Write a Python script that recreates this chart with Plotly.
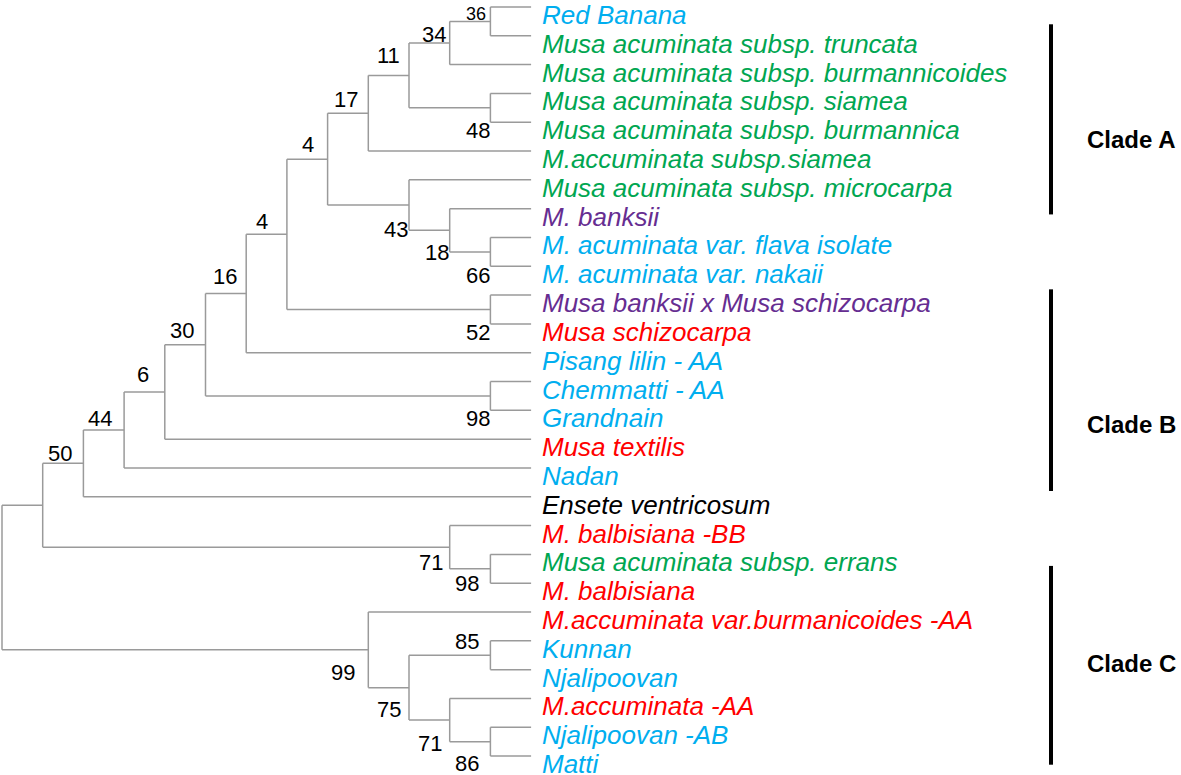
import plotly.graph_objects as go

# ---------------- data ----------------
leaf_names = [
    "Red Banana",
    "Musa acuminata subsp. truncata",
    "Musa acuminata subsp. burmannicoides",
    "Musa acuminata subsp. siamea",
    "Musa acuminata subsp. burmannica",
    "M.accuminata subsp.siamea",
    "Musa acuminata subsp. microcarpa",
    "M. banksii",
    "M. acuminata var. flava isolate",
    "M. acuminata var. nakaii",
    "Musa banksii x Musa schizocarpa",
    "Musa schizocarpa",
    "Pisang lilin - AA",
    "Chemmatti - AA",
    "Grandnain",
    "Musa textilis",
    "Nadan",
    "Ensete ventricosum",
    "M. balbisiana -BB",
    "Musa acuminata subsp. errans",
    "M. balbisiana",
    "M.accuminata var.burmanicoides -AA",
    "Kunnan",
    "Njalipoovan",
    "M.accuminata -AA",
    "Njalipoovan -AB",
    "Matti",
]
leaf_groups = [
    "blue", "green", "green", "green", "green", "green", "green", "purple",
    "blue", "blue", "purple", "red", "blue", "blue", "blue", "red", "blue",
    "black", "red", "green", "red", "red", "blue", "blue", "red", "blue", "blue",
]

# internal nodes: (node id, first child, second child); ints are leaf indices
tree_nodes = [
    ("n1", 0, 1), ("n2", "n1", 2), ("n3", 3, 4), ("n4", "n2", "n3"),
    ("n5", "n4", 5), ("n6", 8, 9), ("n7", 7, "n6"), ("n8", 6, "n7"),
    ("n9", "n5", "n8"), ("n10", 10, 11), ("n11", "n9", "n10"),
    ("n12", "n11", 12), ("n13", 13, 14), ("n14", "n12", "n13"),
    ("n15", "n14", 15), ("n16", "n15", 16), ("n17", "n16", 17),
    ("n18", 19, 20), ("n19", 18, "n18"), ("n20", "n17", "n19"),
    ("n21", 22, 23), ("n22", 25, 26), ("n23", 24, "n22"),
    ("n24", "n21", "n23"), ("n25", 21, "n24"),
    ("root", "n20", "n25"),
]

bootstrap_nodes = ["n1", "n2", "n4", "n5", "n9", "n11", "n12", "n14", "n15",
                   "n16", "n17", "n3", "n8", "n7", "n6", "n10", "n13", "n19",
                   "n18", "n25", "n21", "n24", "n23", "n22"]
bootstrap_values = [36, 34, 11, 17, 4, 4, 16, 30, 6, 44, 50, 48, 43, 18, 66,
                    52, 98, 71, 98, 99, 85, 75, 71, 86]

clade_names = ["Clade A", "Clade B", "Clade C"]
clade_top = [0.6, 9.8, 19.4]       # in leaf-row units
clade_bottom = [7.2, 16.8, 26.3]
clade_label_row = [4.6, 14.5, 22.8]

# ---------------- styles ----------------
group_colors = {"blue": "#00AEEF", "green": "#00A651", "purple": "#662D91",
                "red": "#FF0000", "black": "#000000"}
# pixel offsets of bootstrap labels relative to their node (dx, dy down)
label_offsets = {
    "n1": (-14, -7.5), "n2": (-16, -9), "n4": (-21, -20), "n5": (-22, -14),
    "n9": (-20, -15), "n11": (-25, -13), "n12": (-21, -17), "n14": (-24, -14),
    "n15": (-22, -17), "n16": (-24, -11), "n17": (-23, -10),
    "n3": (-12, 22.5), "n8": (-13, 24), "n7": (-13, 22), "n6": (-12, 23.5),
    "n10": (-12, 23), "n13": (-12, 23), "n19": (-19, 15.5), "n18": (-23, 15),
    "n25": (-25, 23), "n21": (-23, -13.5), "n24": (-20, 22), "n23": (-20, 23),
    "n22": (-23, 22),
}
label_sizes = {"n1": 18}

W, H = 1181, 775
PX_X0, PX_DX = 2.0, 40.7        # pixel of depth 0, pixels per depth level
PX_Y0, PX_DY = 7.0, 28.81       # pixel of row 0, pixels per row

# ---------------- layout of the tree ----------------
children = {nid: (a, b) for nid, a, b in tree_nodes}


def height(n):
    if isinstance(n, int):
        return 0
    a, b = children[n]
    return 1 + max(height(a), height(b))


max_h = height("root")


def node_x(n):
    return max_h - height(n)


def node_y(n):
    if isinstance(n, int):
        return float(n)
    a, b = children[n]
    return (node_y(a) + node_y(b)) / 2.0


xs, ys = [], []
for nid, a, b in tree_nodes:
    x = node_x(nid)
    ya, yb = node_y(a), node_y(b)
    xs += [x, x, None]
    ys += [ya, yb, None]
    for c in (a, b):
        xs += [x, node_x(c), None]
        ys += [node_y(c), node_y(c), None]

fig = go.Figure()
fig.add_trace(go.Scatter(x=xs, y=ys, mode="lines",
                         line=dict(color="#9a9a9a", width=1.5),
                         hoverinfo="skip", showlegend=False))

annotations = []
for i, name in enumerate(leaf_names):
    annotations.append(dict(
        x=max_h, y=i, text=name, showarrow=False, xanchor="left",
        yanchor="middle", xshift=9, yshift=-8,
        font=dict(family="Liberation Sans, Arial, sans-serif", size=26,
                  color=group_colors[leaf_groups[i]], style="italic")))

for nid, val in zip(bootstrap_nodes, bootstrap_values):
    dx, dy = label_offsets[nid]
    annotations.append(dict(
        x=node_x(nid), y=node_y(nid), text=str(val), showarrow=False,
        xanchor="center", yanchor="middle", xshift=dx, yshift=-dy,
        font=dict(family="Liberation Sans, Arial, sans-serif",
                  size=label_sizes.get(nid, 22), color="#000000")))

bar_x = (1051 - PX_X0) / PX_DX
label_x = (1085 - PX_X0) / PX_DX
shapes = []
for name, t, b, ly in zip(clade_names, clade_top, clade_bottom, clade_label_row):
    shapes.append(dict(type="line", x0=bar_x, x1=bar_x, y0=t, y1=b,
                       line=dict(color="#000000", width=4)))
    annotations.append(dict(
        x=label_x, y=ly, text="<b>%s</b>" % name, showarrow=False,
        xanchor="left", yanchor="middle",
        font=dict(family="Liberation Sans, Arial, sans-serif", size=24,
                  color="#000000")))

x_range = [-PX_X0 / PX_DX, (W - PX_X0) / PX_DX]
y_range = [(H - PX_Y0) / PX_DY, -PX_Y0 / PX_DY]

fig.update_layout(
    width=W, height=H, margin=dict(l=0, r=0, t=0, b=0),
    paper_bgcolor="white", plot_bgcolor="white",
    xaxis=dict(range=x_range, visible=False, fixedrange=True),
    yaxis=dict(range=y_range, visible=False, fixedrange=True),
    annotations=annotations, shapes=shapes, showlegend=False,
)
fig.write_html(
    "out.html",
    config={"displayModeBar": False},
    post_script="document.body.style.margin='0';document.body.style.overflow='hidden';",
)
